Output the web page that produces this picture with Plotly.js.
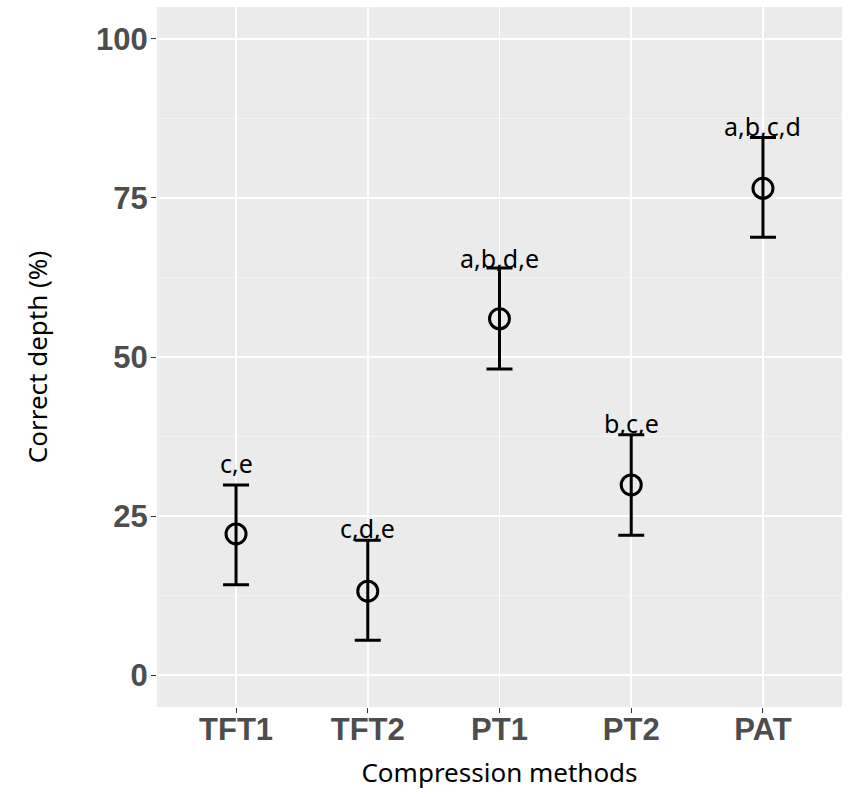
<!DOCTYPE html>
<html>
<head>
<meta charset="utf-8">
<script src="https://cdn.plot.ly/plotly-3.0.1.min.js"></script>
<style>html,body{margin:0;padding:0;background:#fff;}#chart{width:848px;height:797px;}</style>
</head>
<body>
<div id="chart"></div>
<script>
const categories = ["TFT1", "TFT2", "PT1", "PT2", "PAT"];
const meanValues = [22.2, 13.2, 56.0, 29.9, 76.5];
const lowerValues = [14.2, 5.5, 48.1, 22.0, 68.8];
const upperValues = [29.9, 21.2, 64.0, 37.8, 84.5];
const groupLabels = ["c,e", "c,d,e", "a,b,d,e", "b,c,e", "a,b,c,d"];
const labelBaseValues = [32.2, 22.0, 64.5, 38.5, 85.2];

const trace = {
  type: "scatter",
  mode: "markers",
  x: categories,
  y: meanValues,
  marker: {symbol: "circle-open", size: 20, color: "#000", line: {width: 3, color: "#000"}},
  error_y: {
    type: "data", symmetric: false,
    array: upperValues.map((u, i) => u - meanValues[i]),
    arrayminus: meanValues.map((m, i) => m - lowerValues[i]),
    color: "#000", thickness: 3, width: 13
  },
  hoverinfo: "skip",
  showlegend: false
};

const annotations = categories.map((c, i) => ({
  x: c, y: labelBaseValues[i], xref: "x", yref: "y",
  text: groupLabels[i], showarrow: false,
  yanchor: "bottom", yshift: -12,
  font: {family: "Noto Sans, Open Sans, sans-serif", size: 25, color: "#000"}
}));

const layout = {
  width: 848, height: 797,
  margin: {l: 157, r: 6, t: 7, b: 90},
  paper_bgcolor: "#ffffff",
  plot_bgcolor: "#ebebeb",
  showlegend: false,
  xaxis: {
    type: "category",
    range: [-0.6, 4.6],
    showgrid: true, gridcolor: "#ffffff", gridwidth: 1.5,
    zeroline: false, showline: false,
    ticks: "outside", ticklen: 5, tickcolor: "#333", tickwidth: 1,
    ticklabelstandoff: -10,
    tickfont: {family: "Liberation Sans, Arial, sans-serif", size: 31, color: "#4d4d4d", weight: "bold"},
    title: {text: "Compression methods", standoff: 17,
      font: {family: "Noto Sans, Open Sans, sans-serif", size: 26, color: "#000"}}
  },
  yaxis: {
    range: [-5, 105],
    tickvals: [0, 25, 50, 75, 100],
    ticktext: ["0", "25", "50", "75", "100"],
    showgrid: true, gridcolor: "#ffffff", gridwidth: 1.5,
    minor: {tickvals: [12.5, 37.5, 62.5, 87.5], showgrid: true, gridcolor: "#f5f5f5", gridwidth: 0.8, ticks: ""},
    zeroline: false, showline: false,
    ticks: "outside", ticklen: 5, tickcolor: "#333", tickwidth: 1,
    ticklabelstandoff: -3,
    tickfont: {family: "Liberation Sans, Arial, sans-serif", size: 31, color: "#4d4d4d", weight: "bold"},
    title: {text: "Correct depth (%)", standoff: 40,
      font: {family: "Noto Sans, Open Sans, sans-serif", size: 26, color: "#000"}}
  },
  annotations: annotations
};

Plotly.newPlot("chart", [trace], layout, {displayModeBar: false, staticPlot: true});
</script>
</body>
</html>
